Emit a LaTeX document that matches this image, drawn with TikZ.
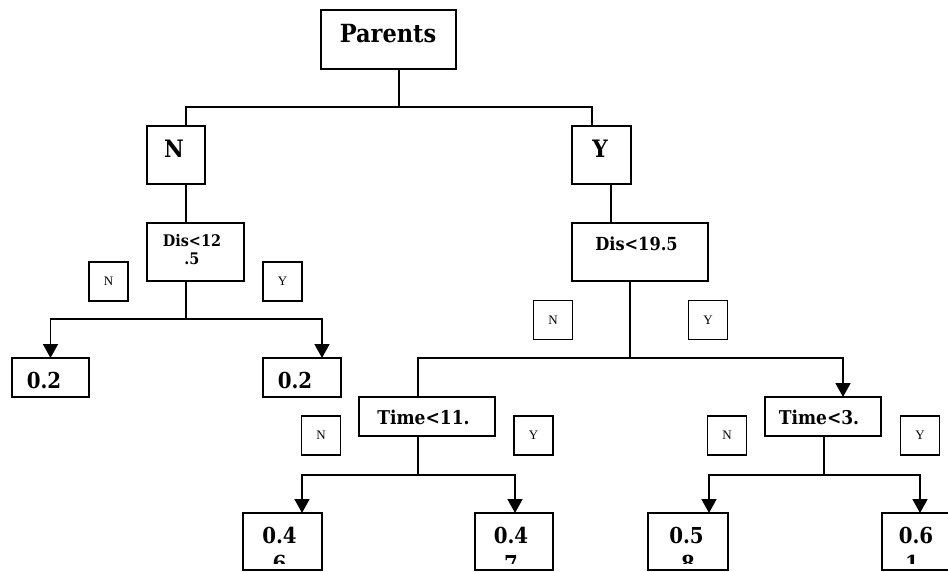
\documentclass[tikz,border=0pt]{standalone}
\usepackage{fontspec}
\setmainfont{Liberation Serif}
\newfontfamily\lab{DejaVu Serif}[FakeStretch=0.9]
\usetikzlibrary{arrows.meta}
\tikzset{
  bx/.style={draw, line width=1.8pt, inner sep=0pt, outer sep=0pt},
  sbx/.style={draw, line width=1.4pt, inner sep=0pt, outer sep=0pt,
    minimum width=39pt, minimum height=39pt, font=\fontsize{13}{15}\selectfont},
  conn/.style={line width=1.8pt},
  arr/.style={conn, -{Triangle[width=15pt,length=14pt]}},
  txt/.style={anchor=base, inner sep=0pt, outer sep=0pt},
  big/.style={txt, font=\lab\bfseries\fontsize{24}{28}\selectfont},
  leaf/.style={txt, font=\lab\bfseries\fontsize{22}{26}\selectfont},
}
\begin{document}
\begin{tikzpicture}[x=1pt, y=-1pt]
\useasboundingbox (0,0) rectangle (948,572);
% boxes
\node[bx, minimum width=135pt, minimum height=59pt] (P) at (388.5,39.5) {};
\node[bx, minimum width=58pt, minimum height=58pt] (N) at (176,155) {};
\node[bx, minimum width=59pt, minimum height=58pt] (Y) at (601.5,155) {};
\node[bx, minimum width=97pt, minimum height=58pt] (dA) at (195.5,252) {};
\node[bx, minimum width=136pt, minimum height=58pt] (dB) at (640,252) {};
\node[bx, minimum width=77pt, minimum height=39pt] (L1) at (50.5,377.5) {};
\node[bx, minimum width=78pt, minimum height=39pt] (L2) at (302,377.5) {};
\node[bx, minimum width=136pt, minimum height=39pt] (tB) at (427,416.5) {};
\node[bx, minimum width=116pt, minimum height=39pt] (tC) at (823,416.5) {};
\node[bx, minimum width=79pt, minimum height=57pt] (L3) at (282.5,541.5) {};
\node[bx, minimum width=78pt, minimum height=57pt] (L4) at (514,541.5) {};
\node[bx, minimum width=80pt, minimum height=57pt] (L5) at (688,541.5) {};
\node[bx, minimum width=78pt, minimum height=57pt] (L6) at (921,541.5) {};
% small N / Y boxes
\node[sbx] (sN1) at (108.5,281.5) {N};
\node[sbx] (sY1) at (282.5,281.5) {Y};
\node[sbx] (sN2) at (553,320) {N};
\node[sbx] (sY2) at (708,320) {Y};
\node[sbx] (sN3) at (321,435.5) {N};
\node[sbx] (sY3) at (533.5,435.5) {Y};
\node[sbx] (sN4) at (727,435.5) {N};
\node[sbx] (sY4) at (920,435.5) {Y};
% texts
\node[txt, font=\lab\bfseries\fontsize{25}{30}\selectfont] (tP) at (388,43) {Parents};
\node[big] (tN) at (174,158) {N};
\node[big] (tY) at (600,158) {Y};
\node[txt, font=\lab\bfseries\fontsize{16}{18}\selectfont] (tdA1) at (192,247) {Dis<12};
\node[txt, font=\lab\bfseries\fontsize{16}{18}\selectfont] (tdA2) at (192,265) {.5};
\node[txt, font=\lab\bfseries\fontsize{18}{21}\selectfont] (tdB) at (636.5,251) {Dis<19.5};
\node[txt, font=\lab\bfseries\fontsize{19}{22}\selectfont] (ttB) at (423.5,424) {Time<11.};
\node[txt, font=\lab\bfseries\fontsize{19}{22}\selectfont] (ttC) at (819,424) {Time<3.};
\node[leaf] (tL1) at (44,388) {0.2};
\node[leaf] (tL2) at (295,388) {0.2};
\node[leaf] (tL3) at (279.5,543) {0.4};
\node[leaf] (tL4) at (511,543) {0.4};
\node[leaf] (tL5) at (686.5,543) {0.5};
\node[leaf] (tL6) at (916,543) {0.6};
\begin{scope}
  \clip (L3.north west) rectangle ([yshift=7pt]L6.south east);
  \node[leaf] (uL3) at (279.5,571) {6};
  \node[leaf] (uL4) at (511,571) {7};
  \node[leaf] (uL5) at (688,571) {8};
  \node[leaf] (uL6) at (912,571) {1};
\end{scope}
% connectors
\coordinate (jP) at (399,107);
\coordinate (aN) at (186,0);
\coordinate (aY) at (592,0);
\coordinate (bY) at (611,0);
\draw[conn] (P.south -| jP) -- (jP);
\draw[conn] (aN |- N.north) |- (jP) -| (aY |- Y.north);
\draw[conn] (aN |- N.south) -- (aN |- dA.north);
\coordinate (jA) at (186,319);
\draw[conn] (aN |- dA.south) -- (jA);
\coordinate (aL2) at (322,0);
\draw[arr] (jA) -| (L1.north);
\draw[arr] (jA) -| (aL2 |- L2.north);
\draw[conn] (bY |- Y.south) -- (bY |- dB.north);
\coordinate (bB) at (630,0);
\coordinate (jB) at (630,358);
\draw[conn] (bB |- dB.south) -- (jB);
\coordinate (cB) at (418,0);
\coordinate (cC) at (843,0);
\draw[conn] (jB) -| (cB |- tB.north);
\draw[arr] (jB) -| (cC |- tC.north);
\coordinate (jT) at (418,475);
\draw[conn] (cB |- tB.south) -- (jT);
\coordinate (aL3) at (302,0);
\coordinate (aL4) at (515,0);
\draw[arr] (jT) -| (aL3 |- L3.north);
\draw[arr] (jT) -| (aL4 |- L4.north);
\coordinate (cU) at (824,0);
\coordinate (jU) at (824,475);
\draw[conn] (cU |- tC.south) -- (jU);
\coordinate (aL5) at (709,0);
\coordinate (aL6) at (920,0);
\draw[arr] (jU) -| (aL5 |- L5.north);
\draw[arr] (jU) -| (aL6 |- L6.north);
\end{tikzpicture}
\end{document}
